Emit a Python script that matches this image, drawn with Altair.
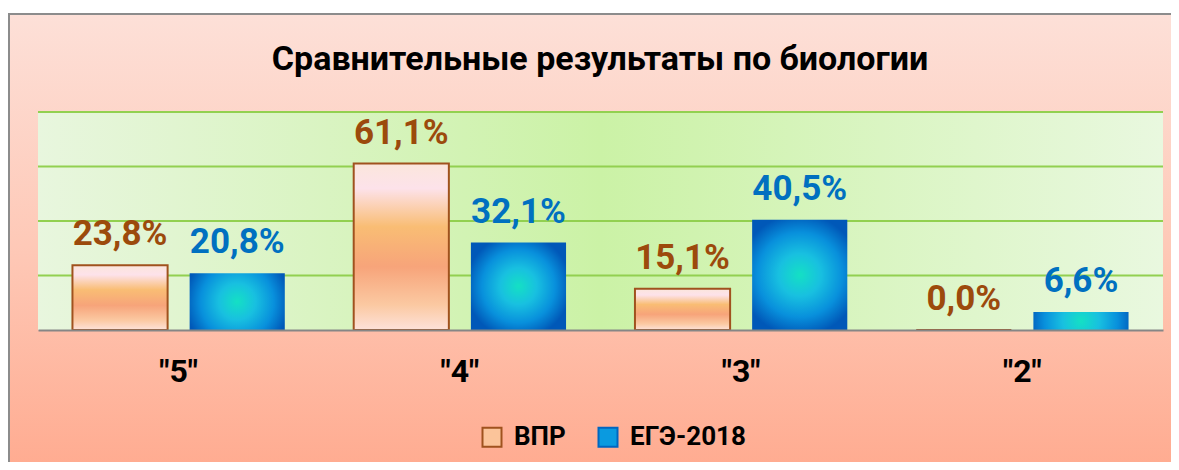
import altair as alt
import pandas as pd

categories = ['"5"', '"4"', '"3"', '"2"']
series = ["ВПР", "ЕГЭ-2018"]
vpr_values = [23.8, 61.1, 15.1, 0.0]
ege_values = [20.8, 32.1, 40.5, 6.6]
grid_values = [20, 40, 60, 80]
title_text = "Сравнительные результаты по биологии"

rows = []
for c, v in zip(categories, vpr_values):
    rows.append({"cat": c, "series": series[0], "value": v})
for c, v in zip(categories, ege_values):
    rows.append({"cat": c, "series": series[1], "value": v})
df = pd.DataFrame(rows)
df["label"] = df["value"].map(lambda v: f"{v:.1f}".replace(".", ",") + "%")
grid_df = pd.DataFrame({"value": grid_values})
one = pd.DataFrame({"a": [0]})
title_df = pd.DataFrame({"t": [title_text]})

FONT = "Roboto"

bg_grad = {"gradient": "linear", "x1": 0, "y1": 0, "x2": 0, "y2": 1,
           "stops": [{"offset": 0, "color": "#fde0d8"},
                     {"offset": 0.5, "color": "#fec8b6"},
                     {"offset": 1, "color": "#ffa88c"}]}
plot_grad = {"gradient": "linear", "x1": 0, "y1": 0, "x2": 1, "y2": 0,
             "stops": [{"offset": 0, "color": "#e8f6de"},
                       {"offset": 0.5, "color": "#cbf2a6"},
                       {"offset": 1, "color": "#e9f8df"}]}
vpr_grad = {"gradient": "linear", "x1": 0, "y1": 0, "x2": 0, "y2": 1,
            "stops": [{"offset": 0, "color": "#fbe6dc"},
                      {"offset": 0.15, "color": "#fde2ea"},
                      {"offset": 0.38, "color": "#f9bd74"},
                      {"offset": 0.62, "color": "#f7a47a"},
                      {"offset": 0.85, "color": "#fbc9a2"},
                      {"offset": 1, "color": "#fde2da"}]}
ege_grad = {"gradient": "radial", "x1": 0.5, "y1": 0.5, "r1": 0,
            "x2": 0.5, "y2": 0.5, "r2": 0.55,
            "stops": [{"offset": 0, "color": "#14e0c4"},
                      {"offset": 0.35, "color": "#18c0e0"},
                      {"offset": 0.7, "color": "#0890dc"},
                      {"offset": 1, "color": "#0058b8"}]}

yscale = alt.Scale(domain=[0, 80], nice=False)
x_enc = alt.X("cat:N", sort=categories,
              scale=alt.Scale(paddingInner=0.245, paddingOuter=0.1225),
              axis=alt.Axis(title=None, labelAngle=0, labelFont=FONT, labelFontSize=32,
                            labelFontWeight="bold", labelColor="black", ticks=False,
                            tickSize=0, labelPadding=26, domainColor="#868686",
                            domainWidth=2, zindex=1))
xoff = alt.XOffset("series:N", scale=alt.Scale(domain=series, paddingInner=0.188))
y_enc = alt.Y("value:Q", scale=yscale, axis=None)

outer = alt.Chart(one).mark_rect(fill=bg_grad, stroke="#8c8c8c", strokeWidth=2).encode(
    x=alt.value(-29), x2=alt.value(1200), y=alt.value(-98), y2=alt.value(380))
title_layer = alt.Chart(title_df).mark_text(
    font=FONT, fontSize=34, fontWeight="bold", color="black", align="center",
    baseline="alphabetic").encode(x=alt.value(562), y=alt.value(-42), text="t:N")
plotbg = alt.Chart(one).mark_rect(fill=plot_grad).encode(
    x=alt.value(0), x2=alt.value("width"), y=alt.value(0), y2=alt.value("height"))
grid = alt.Chart(grid_df).mark_rule(color="#92d050", strokeWidth=2).encode(y=y_enc)

base = alt.Chart(df)
bars_vpr = base.transform_filter(alt.datum.series == series[0]).mark_bar(
    fill=vpr_grad, stroke="#a0521e", strokeWidth=2).encode(x=x_enc, xOffset=xoff, y=y_enc)
bars_ege = base.transform_filter(alt.datum.series == series[1]).mark_bar(
    fill=ege_grad).encode(x=x_enc, xOffset=xoff, y=y_enc)
text_vpr = base.transform_filter(alt.datum.series == series[0]).mark_text(
    font=FONT, fontSize=35, fontWeight="bold", color="#9c4a0c", dy=-20, baseline="alphabetic").encode(
    x=x_enc, xOffset=xoff, y=y_enc, text="label:N")
text_ege = base.transform_filter(alt.datum.series == series[1]).mark_text(
    font=FONT, fontSize=35, fontWeight="bold", color="#0070c0", dy=-20, baseline="alphabetic").encode(
    x=x_enc, xOffset=xoff, y=y_enc, text="label:N")

leg = alt.Legend(orient="none", legendX=441, legendY=312, direction="horizontal", title=None,
                 symbolType="square", symbolSize=361, symbolStrokeWidth=2, symbolOpacity=1,
                 labelFont=FONT, labelFontSize=26, labelFontWeight="bold", labelColor="black",
                 labelOffset=9, columnPadding=28, padding=0, zindex=1)
legend_layer = base.mark_square(opacity=0).encode(
    fill=alt.Fill("series:N", scale=alt.Scale(domain=series, range=["#fbc49a", "#0a9ae0"]), legend=leg),
    stroke=alt.Stroke("series:N", scale=alt.Scale(domain=series, range=["#a0521e", "#0066c0"]), legend=leg),
)

chart = alt.layer(outer, title_layer, plotbg, grid, bars_vpr, bars_ege, text_vpr, text_ege,
                  legend_layer).properties(
    width=1125, height=218,
    padding={"left": 30, "top": 104, "right": 8, "bottom": 132},
    autosize=alt.AutoSizeParams(type="none"),
).configure_view(stroke=None).configure(background="white")

chart.save("out.html", embed_options={"renderer": "svg", "actions": False})
